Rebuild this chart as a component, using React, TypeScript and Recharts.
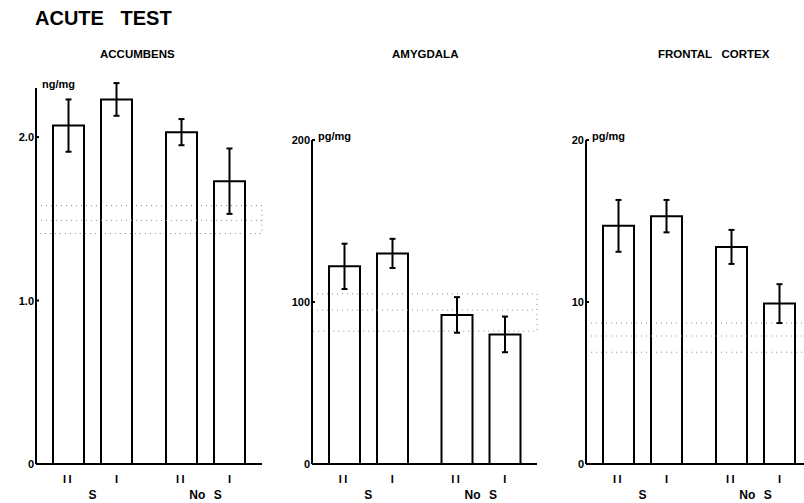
import { BarChart, Bar, XAxis, YAxis, ErrorBar, ReferenceArea, ReferenceLine } from 'recharts'

const groups = ['S', 'No S']
const subLabels = ['II', 'I']

// accumbens (ng/mg)
const accII = [2.07, 2.03]
const accIIErr = [0.16, 0.08]
const accI = [2.23, 1.73]
const accIErr = [0.1, 0.2]
const accCtrl = [1.41, 1.49, 1.58]
const accTicks = [0, 1, 2]

// amygdala (pg/mg)
const amyII = [122, 92]
const amyIIErr = [14, 11]
const amyI = [130, 80]
const amyIErr = [9, 11]
const amyCtrl = [82, 95, 105]
const amyTicks = [0, 100, 200]

// frontal cortex (pg/mg)
const fcII = [14.7, 13.4]
const fcIIErr = [1.6, 1.05]
const fcI = [15.3, 9.9]
const fcIErr = [1.0, 1.2]
const fcCtrl = [6.9, 7.9, 8.7]
const fcTicks = [0, 10, 20]

const FONT = '"Liberation Sans", Arial, sans-serif'

const rowsOf = (ii: number[], iiErr: number[], one: number[], oneErr: number[]) =>
  groups.map((g, k) => ({ group: g, ii: ii[k], iiErr: iiErr[k], one: one[k], oneErr: oneErr[k] }))

const XTick = ({ x, y, payload }: any) => (
  <g fontFamily={FONT} fontWeight="bold" fill="#000">
    <text x={x - 24} y={y + 19} textAnchor="middle" fontSize={11} letterSpacing={2.5}>{subLabels[0]}</text>
    <text x={x + 24} y={y + 19} textAnchor="middle" fontSize={11}>{subLabels[1]}</text>
    <text x={x} y={y + 35} textAnchor="middle" fontSize={12} wordSpacing={5}>{payload.value}</text>
  </g>
)

const makeYTick = (fmt: (v: number) => string) => ({ x, y, payload }: any) => (
  <g>
    <line x1={x} x2={x + 3} y1={y} y2={y} stroke="#000" strokeWidth={2} />
    <text x={x - 2} y={y} dy={4} textAnchor="end" fontSize={11} fontWeight="bold" fontFamily={FONT} fill="#000">
      {fmt(payload.value)}
    </text>
  </g>
)

interface PanelProps {
  title: string
  unit: string
  rows: any[]
  ctrl: number[]
  ticks: number[]
  domain: [number, number]
  fmt: (v: number) => string
  left: number
  width: number
  top: number
  yWidth: number
  right: number
  titleX: number
}

function Panel({ title, unit, rows, ctrl, ticks, domain, fmt, left, width, top, yWidth, right, titleX }: PanelProps) {
  return (
    <>
      <div style={{ position: 'absolute', left: titleX, top: 48, fontFamily: FONT, fontWeight: 'bold', fontSize: 11.5, whiteSpace: 'pre' }}>
        {title}
      </div>
      <div style={{ position: 'absolute', left: left + yWidth + 6, top: top - 10, fontFamily: FONT, fontWeight: 'bold', fontSize: 11 }}>
        {unit}
      </div>
      <div style={{ position: 'absolute', left, top: 0 }}>
        <BarChart width={width} height={503} data={rows} margin={{ top, right, left: 0, bottom: 0 }} barSize={31} barGap={17}>
          <XAxis
            dataKey="group"
            height={39}
            tick={<XTick />}
            tickLine={false}
            tickSize={0}
            tickMargin={0}
            axisLine={{ stroke: '#000', strokeWidth: 2 }}
            interval={0}
          />
          <YAxis
            width={yWidth}
            domain={domain}
            ticks={ticks}
            tick={makeYTick(fmt)}
            tickLine={false}
            tickSize={0}
            tickMargin={0}
            axisLine={{ stroke: '#000', strokeWidth: 2 }}
            allowDataOverflow
          />
          <ReferenceArea y1={ctrl[0]} y2={ctrl[2]} fill="none" stroke="#888" strokeWidth={1} strokeDasharray="1 4" ifOverflow="visible" />
          <ReferenceLine y={ctrl[1]} stroke="#999" strokeWidth={1} strokeDasharray="1 4" />
          <Bar dataKey="ii" fill="none" stroke="#000" strokeWidth={2} isAnimationActive={false}>
            <ErrorBar dataKey="iiErr" width={3} strokeWidth={2} stroke="#000" direction="y" />
          </Bar>
          <Bar dataKey="one" fill="none" stroke="#000" strokeWidth={2} isAnimationActive={false}>
            <ErrorBar dataKey="oneErr" width={3} strokeWidth={2} stroke="#000" direction="y" />
          </Bar>
        </BarChart>
      </div>
    </>
  )
}

export default function App() {
  return (
    <div style={{ position: 'absolute', left: 0, top: 0, width: 804, height: 503, overflow: 'hidden', background: '#fff' }}>
      <div style={{ position: 'absolute', left: 35, top: 7, fontFamily: FONT, fontWeight: 'bold', fontSize: 20, whiteSpace: 'pre' }}>
        {'ACUTE   TEST'}
      </div>
      <Panel
        title="ACCUMBENS"
        unit="ng/mg"
        rows={rowsOf(accII, accIIErr, accI, accIErr)}
        ctrl={accCtrl}
        ticks={accTicks}
        domain={[0, 2.3]}
        fmt={(v) => (v === 0 ? '0' : v.toFixed(1))}
        left={0}
        width={280}
        top={88}
        yWidth={36}
        right={18}
        titleX={100}
      />
      <Panel
        title="AMYGDALA"
        unit="pg/mg"
        rows={rowsOf(amyII, amyIIErr, amyI, amyIErr)}
        ctrl={amyCtrl}
        ticks={amyTicks}
        domain={[0, 200]}
        fmt={(v) => String(v)}
        left={270}
        width={280}
        top={140}
        yWidth={42}
        right={13}
        titleX={392}
      />
      <Panel
        title={'FRONTAL   CORTEX'}
        unit="pg/mg"
        rows={rowsOf(fcII, fcIIErr, fcI, fcIErr)}
        ctrl={fcCtrl}
        ticks={fcTicks}
        domain={[0, 20]}
        fmt={(v) => String(v)}
        left={550}
        width={262}
        top={140}
        yWidth={36}
        right={0}
        titleX={658}
      />
    </div>
  )
}
